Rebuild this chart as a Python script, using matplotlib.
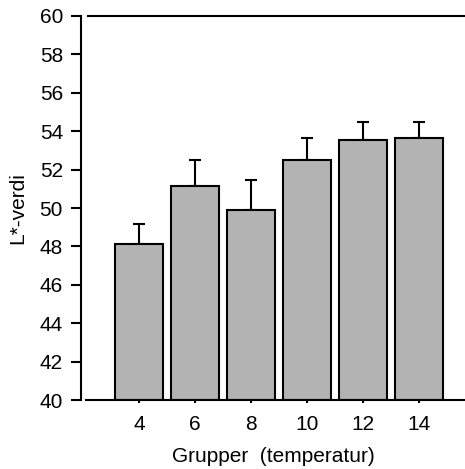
import matplotlib.pyplot as plt

plt.rcParams['font.family'] = ['Liberation Sans', 'DejaVu Sans']

grupper = [4, 6, 8, 10, 12, 14]
verdi = [48.1, 51.13, 49.88, 52.48, 53.53, 53.65]
feil = [1.07, 1.37, 1.57, 1.17, 0.93, 0.81]

fig = plt.figure(figsize=(4.65, 4.69), dpi=100)
ax = fig.add_axes([81/465, 69/469, 384/465, 384/469])

ax.bar(grupper, [v - 40 for v in verdi], bottom=40, width=1.72,
       color='#b3b3b3', edgecolor='black', linewidth=1.5, zorder=2)
ax.errorbar(grupper, verdi, yerr=[[0]*len(feil), feil], fmt='none',
            ecolor='black', elinewidth=1.5, capsize=4, capthick=1.5, zorder=1)

ax.set_xlim(1.93, 15.64)
ax.set_ylim(40, 60)
ax.set_yticks(range(40, 61, 2))
ax.set_xticks(grupper)

for s in ['top', 'bottom']:
    ax.spines[s].set_linewidth(1.5)
ax.spines['left'].set_linewidth(1.5)
ax.spines['right'].set_visible(False)
ax.spines['bottom'].set_bounds(2.11, 15.64)
ax.spines['top'].set_bounds(2.18, 15.64)
ax.spines['bottom'].set_zorder(3)

ax.tick_params(axis='y', direction='out', length=7, width=1.5, labelsize=15, pad=6)
ax.tick_params(axis='x', direction='out', length=2, width=1.5, labelsize=15, pad=9)

ax.set_ylabel('L*-verdi', fontsize=15, labelpad=9)
ax.set_xlabel('Grupper  (temperatur)', fontsize=15, labelpad=9)

fig.savefig('out.png', dpi=100)
